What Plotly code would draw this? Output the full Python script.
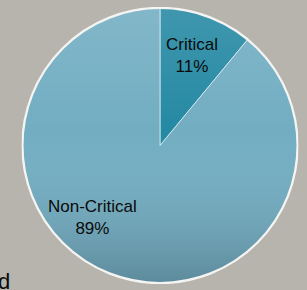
import base64
import plotly.graph_objects as go

labels = ["Critical", "Non-Critical"]
values = [11, 89]
colors = ["#2589a3", "#72adc2"]
label_pos_x = [192, 92]
label_pos_y = [56, 218]

W, H = 307, 290
cx, cy, r = 160, 145.5, 137.5

fig = go.Figure(go.Pie(
    labels=labels, values=values, sort=False, direction="clockwise", rotation=0,
    marker=dict(colors=colors, line=dict(color="rgba(255,255,255,0.6)", width=1)),
    textinfo="none", hoverinfo="label+percent", showlegend=False,
    domain=dict(x=[(cx - r) / W, (cx + r) / W], y=[1 - (cy + r) / H, 1 - (cy - r) / H]),
))

svg = f'''<svg xmlns="http://www.w3.org/2000/svg" width="300" height="300" viewBox="0 0 300 300">
<defs>
<linearGradient id="g" x1="0" y1="0" x2="0" y2="1">
<stop offset="0" stop-color="#ffffff" stop-opacity="0.12"/>
<stop offset="0.45" stop-color="#ffffff" stop-opacity="0"/>
<stop offset="1" stop-color="#000000" stop-opacity="0.2"/>
</linearGradient>
</defs>
<circle cx="150" cy="150" r="149" fill="url(#g)" stroke="#f4f4f2" stroke-width="2.5"/>
</svg>'''
src = "data:image/svg+xml;base64," + base64.b64encode(svg.encode()).decode()
fig.add_layout_image(dict(source=src, xref="paper", yref="paper",
                          x=(cx - r - 1) / W, y=1 - (cy - r - 1) / H,
                          sizex=(2 * r + 2) / W, sizey=(2 * r + 2) / H,
                          sizing="stretch", layer="above", xanchor="left", yanchor="top"))

for lab, v, px, py in zip(labels, values, label_pos_x, label_pos_y):
    fig.add_annotation(text=f"{lab}<br>{v}%", x=px / W, y=1 - py / H, xref="paper", yref="paper",
                       xanchor="center", yanchor="middle",
                       showarrow=False, font=dict(family="Liberation Sans", size=17, color="#0a0a0a"),
                       align="center")

fig.add_annotation(text="d", x=-0.012, y=1 - 281 / H, xref="paper", yref="paper",
                   xanchor="left", yanchor="middle",
                   showarrow=False, font=dict(family="Liberation Sans", size=22, color="#0a0a0a"))

fig.update_layout(width=W, height=H, margin=dict(l=0, r=0, t=0, b=0),
                  paper_bgcolor="#b6b4ad", plot_bgcolor="#b6b4ad")
fig.write_html("out.html", config={"displayModeBar": False},
               post_script="document.body.style.margin='0';document.body.style.background='#b6b4ad';")
